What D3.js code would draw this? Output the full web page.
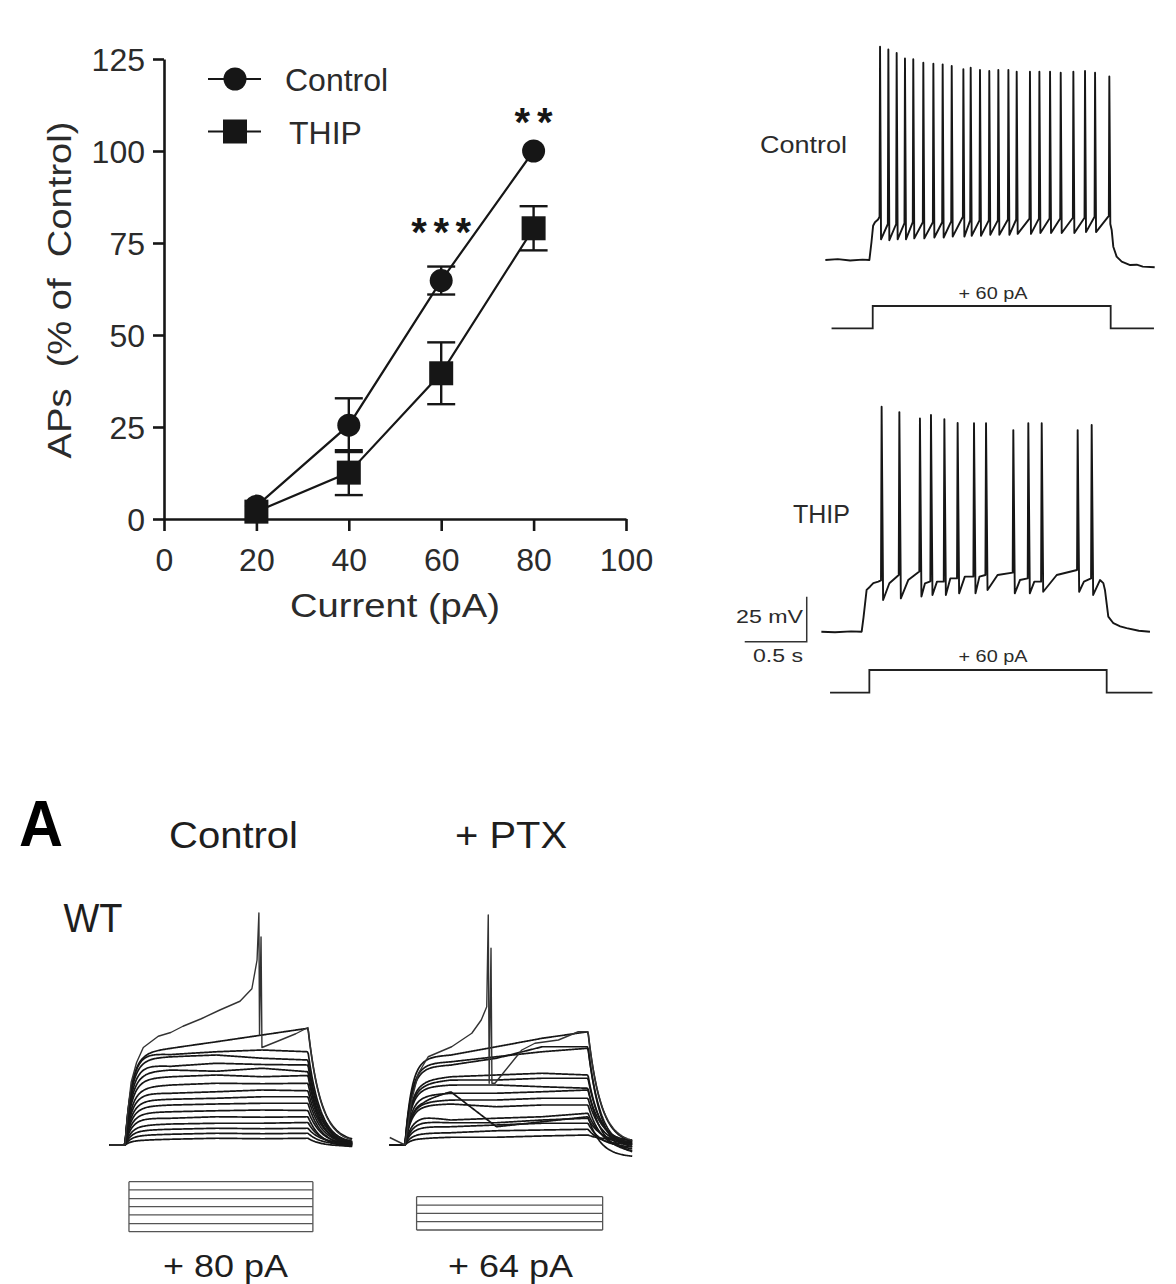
<!DOCTYPE html>
<html><head><meta charset="utf-8">
<script src="https://cdn.jsdelivr.net/npm/d3@7"></script>
<style>
body{margin:0;background:#fff}
svg{display:block}
text{font-family:"Liberation Sans",Arial,Helvetica,sans-serif}
</style>
</head><body>
<svg id="c" width="1176" height="1284"></svg>
<script>
// ================= DATA =================
// --- APs vs current (top-left) ---
const currents    = [20, 40, 60, 80];
const controlMean = [3.5, 25.5, 64.8, 100];
const controlSem  = [1, 7.3, 3.8, 0];
const thipMean    = [2, 12.6, 39.6, 79];
const thipSem     = [1, 6.1, 8.4, 6];
const xTicks = [0, 20, 40, 60, 80, 100];
const yTicks = [0, 25, 50, 75, 100, 125];
const sigCurrents = [60, 80];
const sigLevels   = [79.4, 109.3];
const sigText     = ['***', '**'];
const legendNames = ['Control', 'THIP'];

// --- Control spike train (top-right), time in s, voltage in mV ---
const ctrlOnset  = [[-0.36,-70],[-0.26,-69.5],[-0.16,-70.3],[-0.06,-69.8],[-0.005,-70],[0.012,-60],[0.025,-51],[0.04,-49],[0.065,-47.5]];
const ctrlSpikeT = [0.081,0.148,0.215,0.282,0.349,0.430,0.511,0.586,0.659,0.753,0.812,0.887,0.962,1.035,1.116,1.183,1.290,1.366,1.452,1.538,1.640,1.734,1.815,1.930];
const ctrlPeak   = [48.5,47,45,42,41.5,39.6,39,38.7,37.8,36,36.8,35.6,35,35.6,35.6,34.6,34.6,34.6,34.6,34,34.6,35,34,32];
const ctrlPre    = [-46,-50,-50,-49.5,-49,-49,-49,-49,-48.5,-46,-48,-48,-48,-48,-47.5,-47.5,-47,-47,-47,-47,-46.5,-46.5,-46,-45.5];
const ctrlTrough = [-58.5,-59,-58.5,-58.5,-58,-58,-57.5,-57.5,-57,-57,-56.5,-56.5,-56,-56,-56,-55.5,-55.5,-55,-55,-55,-55,-54.5,-54.5,-50];
const ctrlOffset = [[1.949,-53.3],[1.962,-62.6],[1.989,-68.1],[2.03,-70.9],[2.098,-72.8],[2.151,-72.6],[2.2,-73.7],[2.296,-74]];
const ctrlCurrent = [[-0.31,0],[0.022,0],[0.022,60],[1.941,60],[1.941,0],[2.29,0]];

// --- THIP spike train (top-right) ---
const thipOnset  = [[-0.36,-70],[-0.25,-70.3],[-0.12,-69.8],[-0.035,-70],[-0.02,-62],[0.005,-46.8],[0.032,-45],[0.059,-43],[0.099,-42.2]];
const thipSpikeT = [0.126,0.269,0.435,0.524,0.632,0.739,0.871,0.968,1.188,1.309,1.417,1.707,1.820];
const thipPeak   = [55,52,48.5,50.4,48,46,45.8,45.8,42,45.8,45.8,42,44.8];
const thipPre    = [-41.5,-38.5,-36.6,-42,-42.2,-40.4,-39.4,-38.5,-37.2,-40.4,-42.2,-35.7,-40.4];
const thipTrough = [-52.4,-51.5,-50.5,-49.6,-49.6,-48.7,-48.7,-46.8,-48.7,-48.7,-47.8,-47.8,-49.6];
const thipMid    = [-43.1,-41.3,-43.1,-42.2,-40.4,-39.4,-39.4,-38.5,-41.3,-42.2,-38.5,-42.2];
const thipOffset = [[1.887,-41.3],[1.914,-43],[1.927,-46.8],[1.954,-61.6],[1.995,-65.3],[2.05,-67],[2.102,-68],[2.2,-69.5],[2.29,-70]];
const thipCurrent = [[-0.29,0],[0.027,0],[0.027,60],[1.941,60],[1.941,0],[2.31,0]];
const scaleBar = {t: -0.478, v: -75.6, dt: 0.5, dv: 25};

// --- Bottom panel: step families (time ms, voltage mV) ---
const famTimes = [60, 150, 300, 450, 600];
const ctrlFamily = [
  [-32.7,-31.3,-28.7,-26,-23.3],
  [-33.3,-33.8,-32.7,-32,-32.7],
  [-35.3,-34.7,-34,-35.3,-36],
  [-38,-38.5,-37.3,-37.8,-38],
  [-40.7,-40,-40.5,-39.3,-40.7],
  [-43.3,-42.7,-42,-42.7,-42.2],
  [-46.7,-46,-45.3,-45.5,-45.3],
  [-49.3,-49.3,-48.7,-48,-48.3],
  [-52,-51.7,-51.3,-50.7,-50.7],
  [-54.4,-54,-53.6,-53.3,-53.3],
  [-57,-56.7,-56.3,-56,-56.2],
  [-59.3,-59.3,-58.7,-58.9,-58.7],
  [-62,-61.6,-61.3,-61.3,-61],
  [-64,-63.7,-63.3,-63.5,-63.3],
  [-66,-65.7,-65.3,-65.5,-65.3],
  [-68,-67.7,-67.3,-67.5,-67.3]
];
const ctrlFamilyEnd = [-69,-70,-70.5,-69.5,-70,-71,-70,-69.5,-70,-70.5,-70,-71,-70,-69.5,-70,-70.5];
const ctrlSpikeTrace = [[-50,-70],[0,-70],[8,-58],[20,-45],[38,-37],[60,-31],[109,-26.5],[150,-25],[190,-22.5],[250,-19.5],[311,-16],[377,-12.5],[416,-7.5],[433,4],[439,22.8],[441,-26],[446,13.2],[449,-31],[500,-28.5],[560,-25.5],[600,-23]];
const ptxFamily = [
  [-34.7,-34,-30.7,-27.3,-24.7],
  [-37.3,-36.7,-34.7,-32.7,-31.3],
  [-38.7,-38,-35.3,-30.7,-30.7],
  [-44,-42.7,-42,-41.3,-42],
  [-45.3,-44,-44,-43.3,-43.3],
  [-46.7,-46,-46,-46.7,-47.3],
  [-52,-48.7,-62.7,-60.7,-58.7],
  [-50,-49.3,-49.3,-48.7,-48],
  [-52.7,-52,-52,-51.3,-51.3],
  [-54,-53.6,-54.7,-54,-54],
  [-58.7,-60,-59.3,-58.7,-57.3],
  [-60.7,-61.1,-61.1,-60,-59.3],
  [-62.7,-62.7,-62,-61.3,-61.3],
  [-65.3,-65.1,-64.3,-64,-63.7],
  [-67.3,-66.9,-66.9,-66.4,-66]
];
const ptxFamilyEnd = [-70,-72,-74,-71,-70,-73,-75,-69,-70,-72,-70,-69,-71,-70,-68];
const ptxSpikeTrace = [[-50,-67],[0,-70],[22,-52],[44,-41.3],[76,-34.7],[153,-30.7],[219,-25.3],[250,-20],[268,-14.7],[273,22],[276,-45.3],[282,8.7],[285,-45.3],[295,-45.3],[383,-32],[426,-29.3],[503,-28],[568,-24.7],[600,-24.7]];
const ctrlStim = [80, 67, 53, 40, 27, 13, 0];
const ptxStim  = [64, 48, 32, 16, 0];
const ctrlStimWindow = [13, 616];
const ptxStimWindow  = [38, 648];

// ================= DRAWING =================
const svg = d3.select('#c');
const INK = '#161616';
const TXT = '#2b2b2b';

// ---------- Panel: APs vs current ----------
const x = d3.scaleLinear().domain([0, 100]).range([164, 626]);
const y = d3.scaleLinear().domain([0, 125]).range([519, 59]);
const p1 = svg.append('g');

const gy = p1.append('g').attr('transform', `translate(${x(0)},0)`)
  .call(d3.axisLeft(y).tickValues(yTicks).tickSize(11).tickSizeOuter(0).tickPadding(8));
const gx = p1.append('g').attr('transform', `translate(0,${y(0)})`)
  .call(d3.axisBottom(x).tickValues(xTicks).tickSize(12).tickSizeOuter(0).tickPadding(8));
[gx, gy].forEach(a => {
  a.selectAll('path,line').attr('stroke', INK).attr('stroke-width', 2.6);
  a.selectAll('text').attr('font-size', 32).attr('fill', TXT)
    .style('font-family', '"Liberation Sans",Arial,sans-serif');
});
gx.selectAll('text').attr('y', 52).attr('dy', 0);
gy.selectAll('text').attr('dy', '0.36em');

p1.append('text').attr('x', 395).attr('y', 617).attr('text-anchor', 'middle')
  .attr('font-size', 34).attr('fill', TXT)
  .attr('textLength', 210).attr('lengthAdjust', 'spacingAndGlyphs').text('Current (pA)');
p1.append('text').attr('transform', 'translate(71,290) rotate(-90)').attr('text-anchor', 'middle')
  .attr('font-size', 34).attr('fill', TXT)
  .attr('textLength', 337).attr('lengthAdjust', 'spacingAndGlyphs')
  .style('white-space', 'pre').text('APs  (% of  Control)');

const line = d3.line().x(d => x(d[0])).y(d => y(d[1]));
const ctrlPts = currents.map((c, i) => [c, controlMean[i], controlSem[i]]);
const thipPts = currents.map((c, i) => [c, thipMean[i], thipSem[i]]);
[ctrlPts, thipPts].forEach(pts => {
  p1.append('path').datum(pts).attr('d', line).attr('fill', 'none')
    .attr('stroke', INK).attr('stroke-width', 2.2);
});
[ctrlPts, thipPts].forEach(pts => {
  const eb = p1.append('g').attr('stroke', INK).attr('stroke-width', 2.4);
  pts.filter(d => d[2] > 1.5).forEach(d => {
    eb.append('line').attr('x1', x(d[0])).attr('x2', x(d[0])).attr('y1', y(d[1] - d[2])).attr('y2', y(d[1] + d[2]));
    [d[1] - d[2], d[1] + d[2]].forEach(v => {
      eb.append('line').attr('x1', x(d[0]) - 14).attr('x2', x(d[0]) + 14).attr('y1', y(v)).attr('y2', y(v));
    });
  });
});
p1.selectAll('circle.m').data(ctrlPts).enter().append('circle')
  .attr('cx', d => x(d[0])).attr('cy', d => y(d[1])).attr('r', 11.5).attr('fill', INK);
p1.selectAll('rect.m').data(thipPts).enter().append('rect')
  .attr('x', d => x(d[0]) - 12).attr('y', d => y(d[1]) - 12).attr('width', 24).attr('height', 24).attr('fill', INK);

sigCurrents.forEach((c, i) => {
  p1.append('text').attr('x', x(c)).attr('y', y(sigLevels[i]) + 19).attr('text-anchor', 'middle')
    .attr('font-size', 40).attr('font-weight', 'bold').attr('fill', INK)
    .attr('textLength', sigText[i].length === 3 ? 60 : 38).attr('lengthAdjust', 'spacing')
    .text(sigText[i]);
});

// legend
legendNames.forEach((name, i) => {
  const ly = 79 + i * 52.5;
  p1.append('line').attr('x1', 208).attr('x2', 261).attr('y1', ly).attr('y2', ly)
    .attr('stroke', INK).attr('stroke-width', 2.2);
  if (i === 0) p1.append('circle').attr('cx', 235).attr('cy', ly).attr('r', 11.5).attr('fill', INK);
  else p1.append('rect').attr('x', 223).attr('y', ly - 12).attr('width', 24).attr('height', 24).attr('fill', INK);
  p1.append('text').attr('x', i === 0 ? 285 : 289).attr('y', ly + 12).attr('font-size', 32).attr('fill', TXT).text(name);
});

// ---------- Panel: example spike trains ----------
function trainPoints(onset, spT, peak, pre, trough, offset, mid, preDt, trDt) {
  const pts = onset.slice();
  spT.forEach((t, i) => {
    pts.push([t - preDt, pre[i]], [t, peak[i]], [t + trDt, trough[i]]);
    if (mid && i < spT.length - 1) {
      const nt = spT[i + 1];
      pts.push([t + trDt + 0.4 * (nt - t - trDt - preDt), mid[i]]);
    }
  });
  return pts.concat(offset);
}
const ctrlX = d3.scaleLinear().domain([0, 1]).range([870, 994]);
const ctrlV = d3.scaleLinear().domain([-70, 0]).range([260, 134]);
const ctrlI = d3.scaleLinear().domain([0, 60]).range([328.3, 306]);
const thipX = d3.scaleLinear().domain([0, 1]).range([866, 990]);
const thipV = d3.scaleLinear().domain([-70, 0]).range([631.7, 505.7]);
const thipI = d3.scaleLinear().domain([0, 60]).range([692.7, 670]);

const p2 = svg.append('g');
const ctrlTrain = trainPoints(ctrlOnset, ctrlSpikeT, ctrlPeak, ctrlPre, ctrlTrough, ctrlOffset, null, 0.004, 0.008);
const thipTrain = trainPoints(thipOnset, thipSpikeT, thipPeak, thipPre, thipTrough, thipOffset, thipMid, 0.005, 0.012);
p2.append('path').attr('d', d3.line().x(d => ctrlX(d[0])).y(d => ctrlV(d[1]))(ctrlTrain))
  .attr('fill', 'none').attr('stroke', INK).attr('stroke-width', 1.9).attr('stroke-linejoin', 'round');
p2.append('path').attr('d', d3.line().x(d => thipX(d[0])).y(d => thipV(d[1]))(thipTrain))
  .attr('fill', 'none').attr('stroke', INK).attr('stroke-width', 1.9).attr('stroke-linejoin', 'round');
p2.append('path').attr('d', d3.line().x(d => ctrlX(d[0])).y(d => ctrlI(d[1]))(ctrlCurrent))
  .attr('fill', 'none').attr('stroke', '#222').attr('stroke-width', 1.8);
p2.append('path').attr('d', d3.line().x(d => thipX(d[0])).y(d => thipI(d[1]))(thipCurrent))
  .attr('fill', 'none').attr('stroke', '#222').attr('stroke-width', 1.8);

p2.append('text').attr('x', 760).attr('y', 153).attr('font-size', 24).attr('fill', TXT)
  .attr('textLength', 87).attr('lengthAdjust', 'spacingAndGlyphs').text('Control');
p2.append('text').attr('x', 793).attr('y', 523).attr('font-size', 25).attr('fill', TXT)
  .attr('textLength', 57).attr('lengthAdjust', 'spacingAndGlyphs').text('THIP');
[299, 662].forEach(by => {
  p2.append('text').attr('x', 993).attr('y', by).attr('text-anchor', 'middle').attr('font-size', 17)
    .attr('fill', TXT).attr('textLength', 69).attr('lengthAdjust', 'spacingAndGlyphs').text('+ 60 pA');
});
// scale bar
const sbx = thipX(scaleBar.t), sby = thipV(scaleBar.v);
p2.append('path')
  .attr('d', `M${thipX(scaleBar.t - scaleBar.dt)},${sby}H${sbx}V${thipV(scaleBar.v + scaleBar.dv)}`)
  .attr('fill', 'none').attr('stroke', '#333').attr('stroke-width', 1.5);
p2.append('text').attr('x', 803).attr('y', 623).attr('text-anchor', 'end').attr('font-size', 19).attr('fill', TXT)
  .attr('textLength', 67).attr('lengthAdjust', 'spacingAndGlyphs').text('25 mV');
p2.append('text').attr('x', 803).attr('y', 662).attr('text-anchor', 'end').attr('font-size', 19).attr('fill', TXT)
  .attr('textLength', 50).attr('lengthAdjust', 'spacingAndGlyphs').text('0.5 s');

// ---------- Panel A: step families ----------
const p3 = svg.append('g');
const famV = d3.scaleLinear().domain([-70, 30]).range([1145, 895]);
const ctrlT = d3.scaleLinear().domain([0, 600]).range([125, 308]);
const ptxT  = d3.scaleLinear().domain([0, 600]).range([405, 588]);
const interp = d3.scaleLinear().domain(famTimes).clamp(true);

function familyTrace(levels, endV, base) {
  interp.range(levels);
  const pts = [];
  for (let t = -50; t <= 745; t += 3) {
    let v;
    if (t < 0) v = base;
    else if (t <= 600) v = base + (interp(t) - base) * (1 - Math.exp(-t / 22));
    else {
      const v600 = levels[levels.length - 1];
      v = endV + (v600 - endV) * Math.exp(-(t - 600) / 42);
    }
    pts.push([t, v]);
  }
  return pts;
}
function spikeTraceFull(way, endV) {
  const pts = way.slice();
  const v600 = way[way.length - 1][1];
  for (let t = 603; t <= 745; t += 3) pts.push([t, endV + (v600 - endV) * Math.exp(-(t - 600) / 42)]);
  return pts;
}
function drawFamily(family, ends, spikeWay, sx) {
  const ln = d3.line().x(d => sx(d[0])).y(d => famV(d[1]));
  family.forEach((lv, i) => {
    p3.append('path').attr('d', ln(familyTrace(lv, ends[i], -70)))
      .attr('fill', 'none').attr('stroke', INK).attr('stroke-width', 1.7).attr('stroke-linejoin', 'round');
  });
  p3.append('path').attr('d', ln(spikeTraceFull(spikeWay, -69.5)))
    .attr('fill', 'none').attr('stroke', '#333').attr('stroke-width', 1.4).attr('stroke-linejoin', 'round');
}
drawFamily(ctrlFamily, ctrlFamilyEnd, ctrlSpikeTrace, ctrlT);
drawFamily(ptxFamily, ptxFamilyEnd, ptxSpikeTrace, ptxT);

// stimulus boxes
function stimBox(levels, win, sx, yr) {
  const sy = d3.scaleLinear().domain([0, d3.max(levels)]).range(yr);
  const g = p3.append('g').attr('stroke', '#555').attr('stroke-width', 1.3);
  levels.forEach(l => g.append('line').attr('x1', sx(win[0])).attr('x2', sx(win[1])).attr('y1', sy(l)).attr('y2', sy(l)));
  [win[0], win[1]].forEach(t => g.append('line').attr('x1', sx(t)).attr('x2', sx(t)).attr('y1', yr[0]).attr('y2', yr[1]));
}
stimBox(ctrlStim, ctrlStimWindow, ctrlT, [1231.7, 1181.7]);
stimBox(ptxStim, ptxStimWindow, ptxT, [1230, 1196.7]);

// labels
function lab(txt, xx, yy, fs, len, weight) {
  p3.append('text').attr('x', xx).attr('y', yy).attr('font-size', fs).attr('fill', weight ? '#000' : '#1e1e1e')
    .attr('font-weight', weight || 'normal')
    .attr('textLength', len).attr('lengthAdjust', 'spacingAndGlyphs').style('white-space', 'pre').text(txt);
}
lab('A', 19, 846, 65, 44, 'bold');
lab('Control', 169, 848, 36, 129);
lab('+ PTX', 455, 848, 36, 112);
lab('WT', 63.5, 932, 40, 59);
lab('+ 80 pA', 163, 1277, 32, 125);
lab('+ 64 pA', 448, 1277, 32, 125);
</script>
</body></html>
